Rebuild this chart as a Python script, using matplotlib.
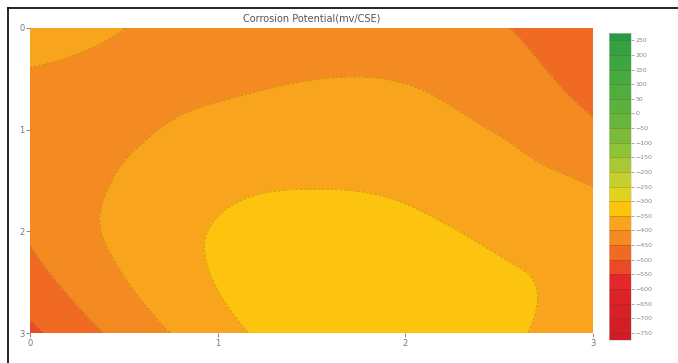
import numpy as np
import matplotlib
matplotlib.use("Agg")
import matplotlib.pyplot as plt
import matplotlib.tri as mtri
from matplotlib.colors import ListedColormap, BoundaryNorm
from matplotlib.lines import Line2D

# survey grid (x across, y down), potentials in mV vs CSE
xs = [0, 1, 2, 3]
ys = [0, 1, 2, 3]
potential = [
    [-368, -418, -424, -482],
    [-430, -388, -380, -442],
    [-445, -347, -341, -376],
    [-512, -368, -316, -382],
]

levels = list(range(-800, 301, 50))
band_colors = [
    "#d01c26", "#d41e27", "#d82028", "#dc2229", "#e2282a", "#eb4a27",
    "#f06a24", "#f48a22", "#f8a51d", "#fcc40f", "#e0d21f", "#c4d02e",
    "#a8c935", "#8ec239", "#7abc3a", "#67b63b", "#5ab23d", "#4fae3e",
    "#46aa40", "#3da641", "#35a242", "#2a9a44",
]
cbar_ticks = list(range(-750, 251, 50))

cmap = ListedColormap(band_colors)
norm = BoundaryNorm(levels, cmap.N)

X, Y = np.meshgrid(xs, ys)
Z = np.array(potential, dtype=float)
tri = mtri.Triangulation(X.ravel(), Y.ravel())
interp = mtri.CubicTriInterpolator(tri, Z.ravel(), kind="min_E")
refiner = mtri.UniformTriRefiner(tri)
tri_f, z_f = refiner.refine_field(Z.ravel(), triinterpolator=interp, subdiv=5)

fig = plt.figure(figsize=(6.78, 3.63), dpi=100)
ax = fig.add_axes([0.044, 0.0826, 0.831, 0.8404])
cs = ax.tricontourf(tri_f, z_f, levels=levels, cmap=cmap, norm=norm)
ax.tricontour(tri_f, z_f, levels=levels, colors="#9a5a18", linewidths=0.6, alpha=0.45)

ax.set_xlim(0, 3)
ax.set_ylim(3, 0)
ax.set_xticks(xs)
ax.set_yticks(ys)
ax.tick_params(labelsize=6, colors="#777777", length=3, width=0.6, pad=1)
for s in ax.spines.values():
    s.set_visible(False)
ax.set_title("Corrosion Potential(mv/CSE)", fontsize=7, color="#555555", pad=5)

cax = fig.add_axes([0.898, 0.063, 0.033, 0.846])
cb = fig.colorbar(cs, cax=cax, ticks=cbar_ticks)
cax.set_ylim(-775, 275)
cb.outline.set_linewidth(0.4)
cb.outline.set_edgecolor("#cccccc")
for lv in cbar_ticks:
    cax.axhline(lv, color="#6a3a10", linewidth=0.5, alpha=0.35)
cax.tick_params(labelsize=4.5, colors="#888888", length=2, width=0.5, pad=1)

# page frame edges
fig.add_artist(Line2D([0.012, 1.0], [0.978, 0.978], color="black", linewidth=1.2))
fig.add_artist(Line2D([0.012, 0.012], [0.0, 0.978], color="black", linewidth=1.2))

fig.savefig("out.png", dpi=100)
